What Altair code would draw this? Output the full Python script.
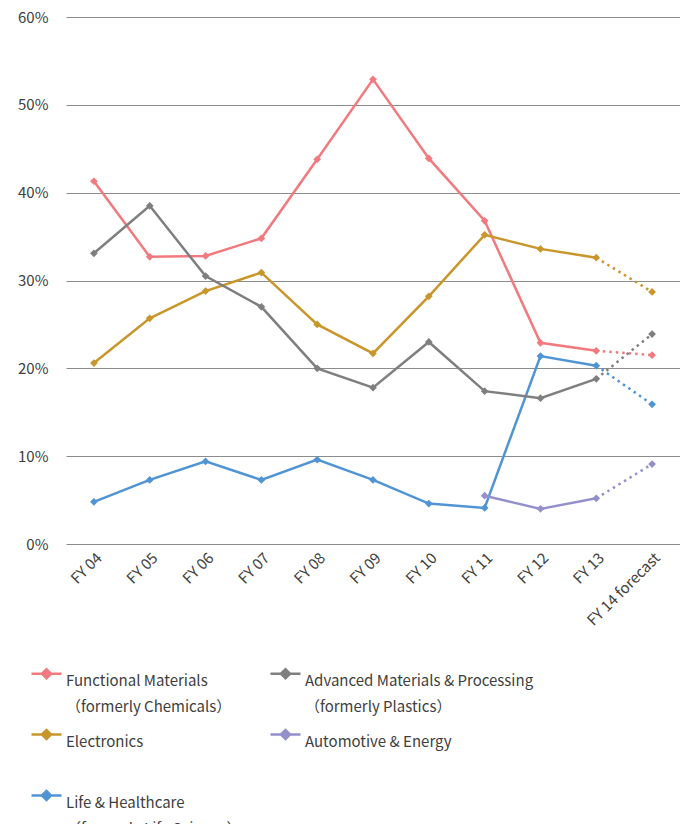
import altair as alt
import pandas as pd

years = ["FY 04", "FY 05", "FY 06", "FY 07", "FY 08", "FY 09", "FY 10",
         "FY 11", "FY 12", "FY 13", "FY 14 forecast"]

# legend is laid out column by column: left column first, then right column
series_names = [
    "Functional Materials|（formerly Chemicals）",
    "Electronics|",
    "Life & Healthcare|（formerly Life Science）",
    "Advanced Materials & Processing|（formerly Plastics）",
    "Automotive & Energy|",
]
colors = ["#F27A7E", "#C9962C", "#4F94D4", "#7F7F7F", "#9490CC"]

functional = [41.3, 32.7, 32.8, 34.8, 43.8, 52.9, 43.9, 36.8, 22.9, 22.0, 21.5]
electronics = [20.6, 25.7, 28.8, 30.9, 25.0, 21.7, 28.2, 35.2, 33.6, 32.6, 28.7]
life = [4.8, 7.3, 9.4, 7.3, 9.6, 7.3, 4.6, 4.1, 21.4, 20.3, 15.9]
advanced = [33.1, 38.5, 30.5, 27.0, 20.0, 17.8, 23.0, 17.4, 16.6, 18.8, 23.9]
automotive = [None, None, None, None, None, None, None, 5.5, 4.0, 5.2, 9.1]

all_values = [functional, electronics, life, advanced, automotive]

rows = []
for name, vals in zip(series_names, all_values):
    for i, (yr, v) in enumerate(zip(years, vals)):
        if v is None:
            continue
        frac = v / 100.0
        if i <= 9:
            rows.append({"Year": yr, "Segment": name, "Value": frac, "Part": "actual", "Mark": i < 10})
        if i >= 9:
            rows.append({"Year": yr, "Segment": name, "Value": frac, "Part": "forecast", "Mark": i == 10})
df = pd.DataFrame(rows)

FONT = "Noto Sans CJK JP"
TXT = "#404040"
cscale = alt.Scale(domain=series_names, range=colors)

color = alt.Color(
    "Segment:N",
    scale=cscale,
    sort=series_names,
    legend=alt.Legend(
        title=None,
        orient="none",
        legendX=-36,
        legendY=640,
        columns=2,
        columnPadding=23,
        rowPadding=3,
        labelExpr="split(datum.label, '|')",
        labelFont=FONT,
        labelFontSize=15,
        labelColor=TXT,
        labelLimit=400,
        labelOffset=3,
        symbolType="M-1,0H1M-0.3,0L0,-0.3L0.3,0L0,0.3Z",
        symbolSize=900,
        symbolStrokeWidth=2.5,
        symbolFillColor="transparent",
        labelBaseline="top",
    ),
)

x = alt.X("Year:N", sort=years, scale=alt.Scale(domain=years, padding=0.5),
          axis=alt.Axis(title=None, labelAngle=-45, labelFont=FONT, labelFontSize=15,
                        labelColor=TXT, ticks=False, domain=False, grid=False,
                        labelPadding=6))
y = alt.Y("Value:Q", scale=alt.Scale(domain=[0, 0.6]),
          axis=alt.Axis(title=None, format=".0%", values=[0, 0.1, 0.2, 0.3, 0.4, 0.5, 0.6],
                        labelFont=FONT, labelFontSize=15, labelColor=TXT,
                        ticks=False, domain=False, gridColor="#8C8C8C", gridWidth=1.2,
                        labelPadding=18))

solid = alt.Chart(df).transform_filter(alt.datum.Part == "actual").mark_line(strokeWidth=2.5).encode(
    x=x, y=y, color=color)
dotted = alt.Chart(df).transform_filter(alt.datum.Part == "forecast").mark_line(
    strokeWidth=2.5, strokeDash=[2.5, 4]).encode(
    x=x, y=y, color=alt.Color("Segment:N", legend=None, scale=cscale))
points = alt.Chart(df).transform_filter(alt.datum.Mark == True).mark_point(
    shape="diamond", filled=True, size=60, opacity=1).encode(
    x=x, y=y, color=alt.Color("Segment:N", legend=None, scale=cscale))

chart = alt.layer(solid, dotted, points).properties(
    width=614, height=527,
    padding={"left": 58, "top": 9, "right": 0, "bottom": 280},
    autosize=alt.AutoSizeParams(type="none"),
).configure(style={"guide-label": {"lineHeight": 26}}).configure_view(stroke=None)

chart.save("out.html", embed_options={"renderer": "svg", "actions": False})
